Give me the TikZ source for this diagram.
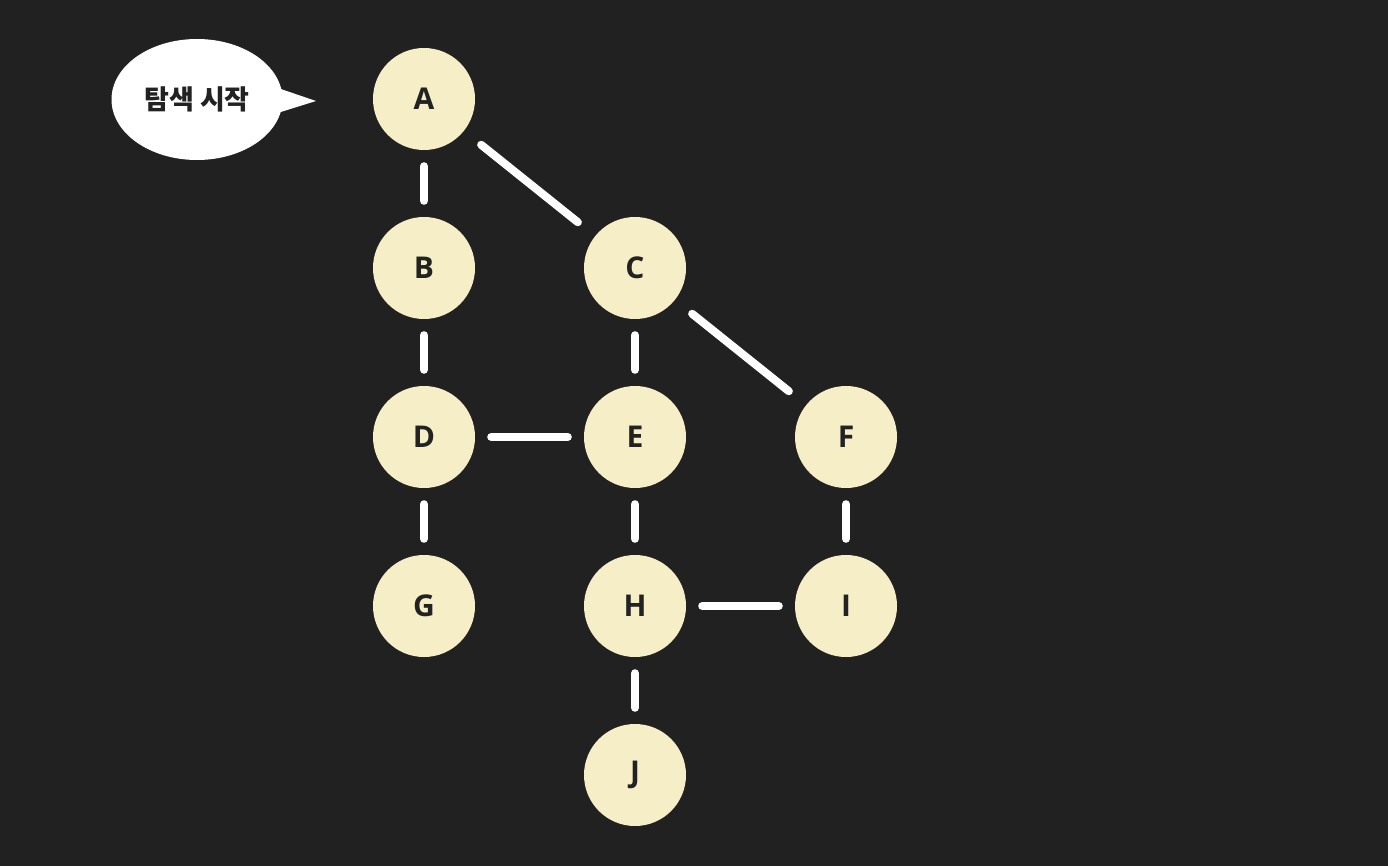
\documentclass[tikz,border=0pt]{standalone}
\usepackage{fontspec}
\setmainfont{Noto Sans CJK KR}
\newfontfamily\latfont{Open Sans}
\usetikzlibrary{shapes.geometric}
\definecolor{bg}{HTML}{212121}
\definecolor{nodefill}{HTML}{F5EEC7}
\definecolor{ink}{HTML}{222222}
\tikzset{
  vtx/.style={circle, fill=nodefill, minimum size=102pt, inner sep=0pt, text=ink, font=\latfont\bfseries\fontsize{30}{36}\selectfont},
  edge/.style={draw=white, line width=8pt, line cap=round, shorten >=16pt, shorten <=16pt},
  dedge/.style={draw=white, line width=8pt, line cap=round, shorten >=22pt, shorten <=22pt},
  bubble/.style={ellipse, fill=white, minimum width=171pt, minimum height=121pt, inner sep=0pt, text=ink, font=\fontsize{27}{30}\selectfont\bfseries}
}
\begin{document}
\begin{tikzpicture}[x=1pt,y=-1pt]
\fill[bg] (0,0) rectangle (1388,866);
\useasboundingbox (0,0) rectangle (1388,866);
\node[vtx] (A) at (424,99) {A};
\node[vtx] (B) at (424,268) {B};
\node[vtx] (C) at (635,268) {C};
\node[vtx] (D) at (424,437) {D};
\node[vtx] (E) at (635,437) {E};
\node[vtx] (F) at (846,437) {F};
\node[vtx] (G) at (424,606) {G};
\node[vtx] (H) at (635,606) {H};
\node[vtx] (I) at (846,606) {I};
\node[vtx] (J) at (635,775) {J};
\draw[edge] (A) -- (B);
\draw[dedge] (A) -- (C);
\draw[edge] (B) -- (D);
\draw[edge] (C) -- (E);
\draw[dedge] (C) -- (F);
\draw[edge] (D) -- (E);
\draw[edge] (D) -- (G);
\draw[edge] (E) -- (H);
\draw[edge] (F) -- (I);
\draw[edge] (H) -- (I);
\draw[edge] (H) -- (J);
\coordinate (tip) at (316,101);
\fill[white] (272,86) -- (tip) -- (268,116) -- cycle;
\node[bubble] (S) at (197,99.5) {탐색 시작};
\end{tikzpicture}
\end{document}
